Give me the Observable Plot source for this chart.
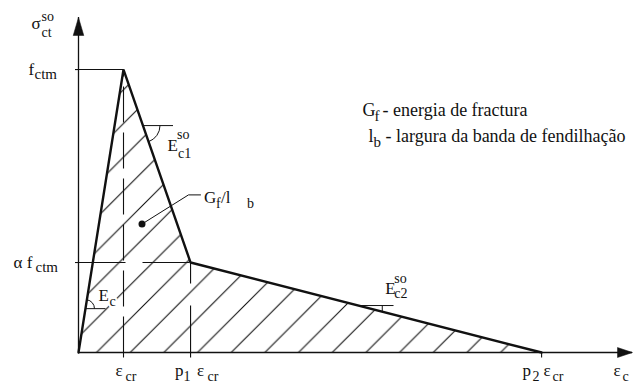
<!DOCTYPE html>
<html>
<head>
<meta charset="utf-8">
<script src="https://cdn.jsdelivr.net/npm/d3@7"></script>
<script src="https://cdn.jsdelivr.net/npm/@observablehq/plot@0.6"></script>
<style>
  html, body { margin: 0; padding: 0; background: #ffffff; }
  #chart svg { display: block; }
  #chart svg text { font-family: "Liberation Serif", "Times New Roman", serif; }
</style>
</head>
<body>
<div id="chart"></div>
<script>
// ---- values (strain in units of ε_cr, stress in units of f_ctm) ----
const strainPoints = [0, 1, 2.49, 10.29];   // 0, ε_cr, p1·ε_cr, p2·ε_cr
const stressPoints = [0, 1, 0.318, 0];      // 0, f_ctm, α·f_ctm, 0
const axisEnd = [12.31, 1.184];             // tips of the ε_c and σ arrows
const xTickValues = [1, 2.49, 10.29];
const yTickValues = [0.318, 1];
const xTickLabels = [["", "", "ε", "cr"], ["p", "1", "ε", "cr"], ["p", "2", "ε", "cr"]];
const yTickLabels = [["α f", "ctm"], ["f", "ctm"]];
const yTitle = ["σ", "so", "ct"];
const xTitle = ["ε", "c"];
// slope markers (point on the branch where the angle / slope symbol sits)
const slopeEc = [{x: 0.155, y: 0.155, xEnd: 0.6}];
const slopeEc1 = [{x: 1.433, y: 0.802, xEnd: 2.1}];
const slopeEc2 = [{x: 6.75, y: 0.166, yLine: 0.144, xStart: 6.25, xEnd: 7.0}];
const slopeLabels = [["E", "", "c"], ["E", "so", "c1"], ["E", "so", "c2"]];
// G_f / l_b pointer
const gfPointer = [{x: 1.411, y: 0.454}, {x: 2.444, y: 0.557}, {x: 2.711, y: 0.557}];
const gfLabel = ["G", "f", "/l", "b"];
const legendLines = [["G", "f", "- energia de fractura"], ["l", "b", "- largura da banda de fendilhação"]];

// ---- build ----
const profile = strainPoints.map((x, i) => ({x, y: stressPoints[i]}));
const ink = "#111";
const serif = "Liberation Serif";
const M = 17, S = 14, L = 18, LS = 15;

function part(data, pos, t, dx, dy, size, extra = {}) {
  return Plot.text(data, {...pos, text: () => t, dx, dy, fontSize: size, fontFamily: serif,
    fill: ink, textAnchor: "start", lineAnchor: "bottom", ...extra});
}
const atXY = {x: "x", y: "y"};

const arrowUp = {draw(c) { c.moveTo(0, 0); c.lineTo(-5.3, 18); c.lineTo(5.3, 18); c.closePath(); }};
const arrowRight = {draw(c) { c.moveTo(0, 0); c.lineTo(-15, -5); c.lineTo(-15, 5); c.closePath(); }};
const tickDown = {draw(c) { c.moveTo(0, 0); c.lineTo(0, 5); }};
const tickLeft = {draw(c) { c.moveTo(0, 0); c.lineTo(-3.5, 0); }};
const arcSym = (r, a0, a1) => ({draw(c) { c.moveTo(r * Math.cos(a0), r * Math.sin(a0)); c.arc(0, 0, r, a0, a1); }});

const marks = [
  Plot.areaY(profile, {x: "x", y: "y", fill: "url(#hatch)"}),
  Plot.link([0], {x1: 0, x2: xTickValues[0], y1: yTickValues[1], y2: yTickValues[1], stroke: ink, strokeWidth: 1.1}),
  Plot.link([0], {x1: 0, x2: xTickValues[1], y1: yTickValues[0], y2: yTickValues[0], stroke: ink, strokeWidth: 1.1, strokeDasharray: "47,17"}),
  Plot.link([0], {x1: xTickValues[0], x2: xTickValues[0], y1: 0, y2: yTickValues[1], stroke: ink, strokeWidth: 1.1, strokeDasharray: "36,10"}),
  Plot.link([0], {x1: xTickValues[1], x2: xTickValues[1], y1: 0, y2: yTickValues[0], stroke: ink, strokeWidth: 1.1, strokeDasharray: "47,22"}),
  Plot.ruleY([0], {stroke: ink, strokeWidth: 1.3}),
  Plot.ruleX([0], {stroke: ink, strokeWidth: 1.3}),
  Plot.dot([{x: 0, y: axisEnd[1]}], {x: "x", y: "y", symbol: arrowUp, fill: ink, stroke: ink, strokeWidth: 0.5}),
  Plot.dot([{x: axisEnd[0], y: 0}], {x: "x", y: "y", symbol: arrowRight, fill: ink, stroke: ink, strokeWidth: 0.5}),
  Plot.dot(xTickValues, {x: d => d, y: 0, symbol: tickDown, fill: "none", stroke: ink, strokeWidth: 1.1}),
  Plot.dot(yTickValues, {x: 0, y: d => d, symbol: tickLeft, fill: "none", stroke: ink, strokeWidth: 1.1}),
  Plot.line(profile, {x: "x", y: "y", stroke: ink, strokeWidth: 2.4, strokeLinejoin: "miter"}),
  Plot.link(slopeEc, {x1: "x", x2: "xEnd", y1: "y", y2: "y", stroke: ink, strokeWidth: 1}),
  Plot.dot(slopeEc, {x: "x", y: "y", symbol: arcSym(9, -1.414, 0), fill: "none", stroke: ink, strokeWidth: 1}),
  Plot.link(slopeEc1, {x1: "x", x2: "xEnd", y1: "y", y2: "y", stroke: ink, strokeWidth: 1}),
  Plot.dot(slopeEc1, {x: "x", y: "y", symbol: arcSym(17, 0, 1.22), fill: "none", stroke: ink, strokeWidth: 1}),
  Plot.link(slopeEc2, {x1: "xStart", x2: "xEnd", y1: "y", y2: "y", stroke: ink, strokeWidth: 1}),
  Plot.link(slopeEc2, {x1: "x", x2: "x", y1: "y", y2: "yLine", stroke: ink, strokeWidth: 1}),
  Plot.line(gfPointer, {x: "x", y: "y", stroke: ink, strokeWidth: 1}),
  Plot.dot(gfPointer.slice(0, 1), {x: "x", y: "y", r: 3.5, fill: ink, stroke: "none"}),
];

marks.push(
  part([0], {frameAnchor: "top-left"}, yTitle[0], -47, 11, M),
  part([0], {frameAnchor: "top-left"}, yTitle[1], -37, 3, S),
  part([0], {frameAnchor: "top-left"}, yTitle[2], -37, 19, S),
  part([0], {frameAnchor: "bottom-right"}, xTitle[0], -19, 23, M),
  part([0], {frameAnchor: "bottom-right"}, xTitle[1], -10, 28, S)
);
const xOff = [[0, 0, -8, 2], [-15.5, -7, 6.5, 17], [-19, -9, 2, 11]];
xTickValues.forEach((v, i) => {
  const a = [{x: v, y: 0}];
  const [p, ps, e, es] = xTickLabels[i];
  const o = xOff[i];
  if (p) marks.push(part(a, atXY, p, o[0], 23, M), part(a, atXY, ps, o[1], 28, S));
  marks.push(part(a, atXY, e, o[2], 23, M), part(a, atXY, es, o[3], 28, S));
});
const yOff = [[-65, -43], [-50, -44]];
yTickValues.forEach((v, i) => {
  const a = [{x: 0, y: v}];
  marks.push(part(a, atXY, yTickLabels[i][0], yOff[i][0], 5, M), part(a, atXY, yTickLabels[i][1], yOff[i][1], 9, S + 1));
});
const halo = {stroke: "white", strokeWidth: 4, paintOrder: "stroke"};
marks.push(
  part(slopeEc, atXY, slopeLabels[0][0], 13, -8, M, halo),
  part(slopeEc, atXY, slopeLabels[0][2], 24, -3, S, halo),
  part(slopeEc1, atXY, slopeLabels[1][0], 24.5, 25, M),
  part(slopeEc1, atXY, slopeLabels[1][1], 34, 13, S),
  part(slopeEc1, atXY, slopeLabels[1][2], 35, 32, S),
  part(slopeEc2, atXY, slopeLabels[2][0], 3, -12, M),
  part(slopeEc2, atXY, slopeLabels[2][1], 12, -23, S),
  part(slopeEc2, atXY, slopeLabels[2][2], 12, -8, S)
);
const gfA = gfPointer.slice(0, 1);
marks.push(
  part(gfA, atXY, gfLabel[0], 62, -21, M),
  part(gfA, atXY, gfLabel[1], 74, -16, S),
  part(gfA, atXY, gfLabel[2], 79, -21, M),
  part(gfA, atXY, gfLabel[3], 105, -16, S)
);
const legOff = [[284, 296, 304, 98], [290, 295, 307, 124]];
legendLines.forEach((ln, i) => {
  const o = legOff[i];
  marks.push(
    part([0], {frameAnchor: "top-left"}, ln[0], o[0], o[3], L),
    part([0], {frameAnchor: "top-left"}, ln[1], o[1], o[3] + 5, LS),
    part([0], {frameAnchor: "top-left"}, ln[2], o[2], o[3], L)
  );
});

const chart = Plot.plot({
  width: 633,
  height: 383,
  marginLeft: 78,
  marginRight: 1,
  marginTop: 17,
  marginBottom: 31,
  x: {domain: [0, axisEnd[0]], axis: null},
  y: {domain: [0, axisEnd[1]], axis: null},
  style: {background: "#ffffff", overflow: "visible"},
  marks
});

const P = 33.67;
d3.select(chart).insert("defs", ":first-child").html(
  `<pattern id="hatch" patternUnits="userSpaceOnUse" width="${P}" height="${P}" patternTransform="translate(11.3,0)">` +
  `<path d="M-2,2 L2,-2 M0,${P} L${P},0 M${P - 2},${P + 2} L${P + 2},${P - 2}" stroke="${ink}" stroke-width="1.1" fill="none"/></pattern>`
);
document.getElementById("chart").appendChild(chart);
</script>
</body>
</html>
